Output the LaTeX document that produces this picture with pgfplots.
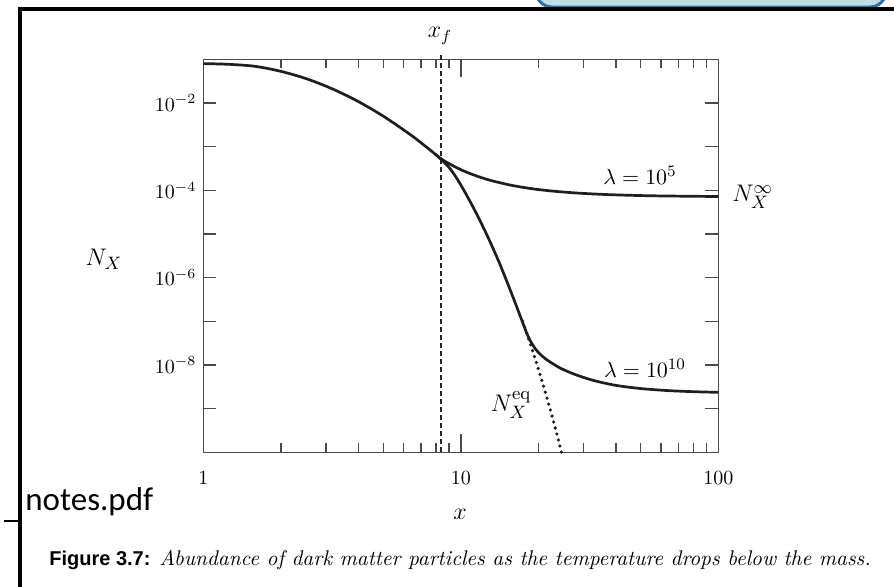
\documentclass[border=0pt]{standalone}
\usepackage{fontspec}
\usepackage{pgfplots}
\pgfplotsset{compat=1.18}
\newfontfamily\calibri{Carlito}
\newfontfamily\arialf{Liberation Sans}
\definecolor{boxfill}{HTML}{BCDFEA}
\definecolor{boxedge}{HTML}{3D6B9A}
\definecolor{axgray}{HTML}{4A4A4A}
\definecolor{curve}{HTML}{1E1E1E}
\begin{document}
\begin{tikzpicture}
\path[use as bounding box] (0,0) rectangle (447pt,293pt);
\fill[white] (0,0) rectangle (447pt,293pt);
% screenshot decorations
\draw[boxedge, fill=boxfill, line width=1.5pt, rounded corners=8pt] (268pt,310pt) rectangle (443pt,289.5pt);
\draw[line width=2.4pt] (10pt,-2pt) -- (10pt,288.5pt) -- (449pt,288.5pt);
\draw[line width=1pt] (2pt,32.5pt) -- (11pt,32.5pt);
\node[anchor=base west, inner sep=0pt] at (12.5pt,38pt) {\calibri\fontsize{16.5}{18}\selectfont notes.pdf};
\begin{axis}[
  at={(101.65pt,66.85pt)}, anchor=south west,
  scale only axis, width=257.5pt, height=196.5pt,
  xmode=log, ymode=log,
  xmin=1, xmax=100, ymin=1e-10, ymax=1e-1,
  axis line style={axgray, line width=0.7pt},
  tick align=inside,
  tick style={axgray, line width=0.7pt},
  major tick length=6.5pt, minor tick length=4.5pt,
  xtick={1,100}, xticklabels={1,100},
  extra x ticks={10}, extra x tick labels={10},
  extra x tick style={major tick length=9pt},
  minor xtick={2,3,4,5,6,7,8,9,20,30,40,50,60,70,80,90},
  ytick={1e-9,1e-8,1e-7,1e-6,1e-5,1e-4,1e-3,1e-2},
  yticklabels={,$10^{-8}$,,$10^{-6}$,,$10^{-4}$,,$10^{-2}$},
  minor y tick style={draw=none},
  xticklabel style={yshift=-6pt},
  clip=false,
]
% freeze-out line
\addplot[black!85, line width=0.9pt, dash pattern=on 2.5pt off 1.5pt] coordinates {(8.35,1e-10) (8.35,1.25e-1)};
% equilibrium (dotted)
\addplot[curve, line width=1.8pt, line cap=round, dash pattern=on 0pt off 3.1pt, smooth] coordinates {
(17.38,1.0e-7) (18.03,5.37e-8) (19,2.12e-8) (20,8.17e-9) (21,3.14e-9) (22,1.21e-9) (23,4.65e-10) (24,1.79e-10) (24.61,1.0e-10)};
% lambda = 1e5
\addplot[curve, line width=1.35pt, smooth] coordinates {
(1,7.98e-2) (1.259,7.67e-2) (1.585,6.92e-2) (1.995,5.33e-2) (2.512,3.60e-2) (3.162,2.12e-2) (3.981,1.096e-2) (5.012,4.95e-3) (6.310,1.96e-3) (7.079,1.17e-3) (7.943,6.78e-4) (8.299,5.46e-4)
(8.913,4.22e-4) (9.550,3.39e-4) (10.23,2.80e-4) (11.22,2.25e-4) (12.59,1.79e-4) (14.13,1.50e-4) (15.85,1.29e-4) (18.62,1.10e-4) (22.39,9.68e-5) (28.18,8.67e-5) (35.48,8.07e-5) (44.67,7.71e-5) (56.23,7.48e-5) (70.79,7.35e-5) (100,7.21e-5)};
% lambda = 1e10
\addplot[curve, line width=1.35pt, smooth] coordinates {
(7.943,6.78e-4) (8.299,5.46e-4) (9.120,3.04e-4) (10.00,1.33e-4) (11.22,3.89e-5) (12.59,9.89e-6) (14.13,2.15e-6) (15.85,3.94e-7) (17.38,9.44e-8) (18.03,5.37e-8) (18.62,3.56e-8) (19.50,2.32e-8) (20.42,1.72e-8) (21.58,1.315e-8) (23.99,8.89e-9) (26.55,6.73e-9) (29.92,5.20e-9) (33.73,4.23e-9) (40.27,3.39e-9) (50.12,2.88e-9) (63.10,2.60e-9) (79.43,2.45e-9) (100,2.36e-9)};
\end{axis}
% labels
\node at (220pt,275pt) {\fontsize{12}{14}\selectfont $x_f$};
\node at (320pt,205.5pt) {\fontsize{11}{13}\selectfont $\lambda = 10^5$};
\node at (322.5pt,109pt) {\fontsize{11}{13}\selectfont $\lambda = 10^{10}$};
\node[anchor=west, inner sep=0pt] at (366pt,194.5pt) {\fontsize{13}{15}\selectfont $N_X^\infty$};
\node at (255.5pt,90.5pt) {\fontsize{13}{15}\selectfont $N_X^{\mathrm{eq}}$};
\node at (52pt,163.5pt) {\fontsize{13}{15}\selectfont $N_X$};
\node at (230pt,36pt) {\fontsize{12}{14}\selectfont $x$};
\node[anchor=west, inner sep=0pt] at (24.5pt,13pt) {{\arialf\bfseries Figure 3.7:} {\fontsize{10.6}{12}\selectfont\itshape Abundance of dark matter particles as the temperature drops below the mass.}};
\end{tikzpicture}
\end{document}
